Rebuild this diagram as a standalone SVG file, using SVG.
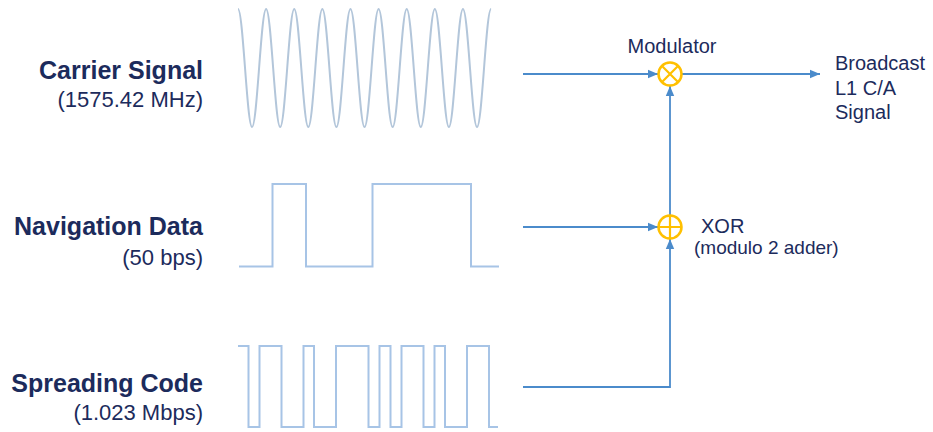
<svg xmlns="http://www.w3.org/2000/svg" width="933" height="432" viewBox="0 0 933 432">
<style>
text{font-family:"Liberation Sans",Arial,Helvetica,sans-serif;fill:#1c2b5c}
.t{font-size:25px;font-weight:bold;text-anchor:end}
.s{font-size:22px;text-anchor:end}
.l{font-size:20px}
.wave{fill:none;stroke:#a7c4e6;stroke-width:2;stroke-linejoin:miter}
.sine{fill:none;stroke:#b3c6da;stroke-width:2}
.conn{fill:none;stroke:#4b8bcb;stroke-width:1.8}
.op{fill:#fff;stroke:#ffc000;stroke-width:2.5}
.opl{stroke:#ffc000;stroke-width:2.2}
</style>
<defs>
<marker id="ah" markerUnits="userSpaceOnUse" markerWidth="10" markerHeight="10" viewBox="0 0 10 10" refX="10" refY="5" orient="auto">
<path d="M0,0.8 L10,5 L0,9.2 Z" fill="#4b8bcb"/>
</marker>
</defs>
<g id="carrier">
<text class="t" x="203" y="79">Carrier Signal</text>
<text class="s" x="203" y="107">(1575.42 MHz)</text>
<path class="sine" d="M238,9 c5.11,0 8.95,118 14.06,118 s8.95,-118 14.06,-118 s8.95,118 14.06,118 s8.95,-118 14.06,-118 s8.95,118 14.06,118 s8.95,-118 14.06,-118 s8.95,118 14.06,118 s8.95,-118 14.06,-118 s8.95,118 14.06,118 s8.95,-118 14.06,-118 s8.95,118 14.06,118 s8.95,-118 14.06,-118 s8.95,118 14.06,118 s8.95,-118 14.06,-118 s8.95,118 14.06,118 s8.95,-118 14.06,-118 s8.95,118 14.06,118 s8.95,-118 14.06,-118"/>
</g>
<g id="navigation">
<text class="t" x="203" y="235">Navigation Data</text>
<text class="s" x="203" y="265">(50 bps)</text>
<path class="wave" d="M239,266.5 H272.5 V184 H306 V266.5 H372.5 V184 H471 V266.5 H499"/>
</g>
<g id="spreading">
<text class="t" x="203" y="392">Spreading Code</text>
<text class="s" x="203" y="420">(1.023 Mbps)</text>
<path class="wave" d="M238,346 H248.5 V427 H259.5 V346 H281.5 V427 H303.5 V346 H314 V427 H336 V346 H368.5 V427 H379.5 V346 H390.5 V427 H401.5 V346 H423.5 V427 H434.5 V346 H445 V427 H467 V346 H489 V427 H498"/>
</g>
<g id="connectors">
<path class="conn" d="M523,74 H658" marker-end="url(#ah)"/>
<path class="conn" d="M682,74 H820" marker-end="url(#ah)"/>
<path class="conn" d="M523,227 H658" marker-end="url(#ah)"/>
<path class="conn" d="M523,387 H670 V239" marker-end="url(#ah)"/>
<path class="conn" d="M670,215 V86" marker-end="url(#ah)"/>
</g>
<g id="modulator">
<circle class="op" cx="670" cy="74" r="11.5"/>
<path class="opl" d="M662,66 L678,82 M678,66 L662,82"/>
<text class="l" x="672" y="53" text-anchor="middle">Modulator</text>
</g>
<g id="xor">
<circle class="op" cx="670" cy="227" r="11.5"/>
<path class="opl" d="M658.5,227 H681.5 M670,215.5 V238.5"/>
<text class="l" x="701" y="233">XOR</text>
<text x="694" y="254" style="font-size:19px">(modulo 2 adder)</text>
</g>
<g id="output">
<text class="l" x="835" y="70">Broadcast</text>
<text class="l" x="835" y="95">L1 C/A</text>
<text class="l" x="835" y="119">Signal</text>
</g>
</svg>
